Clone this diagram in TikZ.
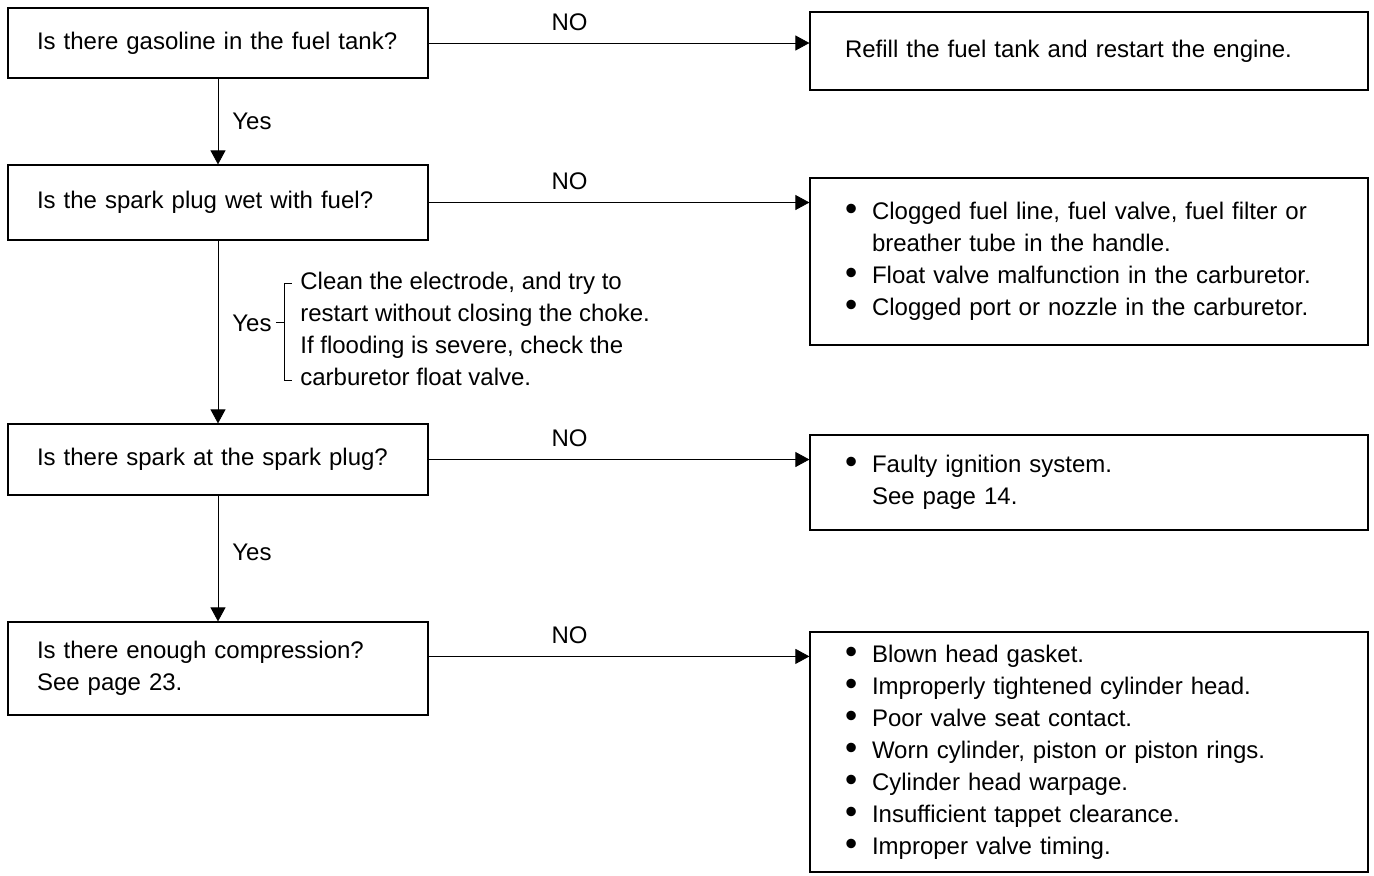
\documentclass[tikz,border=0pt]{standalone}
\usepackage{fontspec}
\setmainfont{Liberation Sans}
\usetikzlibrary{arrows.meta,positioning}
\newcommand{\itm}{\makebox[13.5pt][l]{\raisebox{-0.05em}{\scalebox{1.45}{\textbullet}}}}

\begin{document}
\begin{tikzpicture}[x=0.5pt, y=-0.5pt, >={Triangle[length=7pt,width=7.5pt]},
    every node/.style={font=\fontsize{12}{16}\selectfont},
    qbox/.style={draw, line width=0.6pt, inner xsep=14.5pt, text width=181pt, align=left},
    fixbox/.style={draw, line width=0.6pt, inner xsep=17.5pt, text width=244pt, align=left},
    lbl/.style={inner sep=2pt}]
  \useasboundingbox (0,0) rectangle (1374,875);

  % questions
  \node[qbox, minimum height=35pt] (fuel) at (218,43) {Is there gasoline in the fuel tank?};
  \node[qbox, minimum height=37.5pt] (wet) at (218,202.5) {Is the spark plug wet with fuel?};
  \node[qbox, minimum height=35.5pt] (spark) at (218,459.5) {Is there spark at the spark plug?};
  \node[qbox, minimum height=46.5pt] (comp) at (218,668.5) {Is there enough compression?\\See page 23.};

  % remedies
  \node[fixbox, minimum height=39pt] (refill) at (1089,51) {Refill the fuel tank and restart the engine.};
  \node[fixbox, minimum height=83.5pt] (clog) at (1089,261.5)
     {\itm Clogged fuel line, fuel valve, fuel filter or\\
      \hspace*{13.5pt}breather tube in the handle.\\
      \itm Float valve malfunction in the carburetor.\\
      \itm Clogged port or nozzle in the carburetor.};
  \node[fixbox, minimum height=47.5pt] (ign) at (1089,482.5)
     {\itm Faulty ignition system.\\
      \hspace*{13.5pt}See page 14.};
  \node[fixbox, minimum height=120pt] (head) at (1089,752)
     {\itm Blown head gasket.\\
      \itm Improperly tightened cylinder head.\\
      \itm Poor valve seat contact.\\
      \itm Worn cylinder, piston or piston rings.\\
      \itm Cylinder head warpage.\\
      \itm Insufficient tappet clearance.\\
      \itm Improper valve timing.};

  % NO branches
  \draw[->] (fuel.east) -- (fuel.east -| refill.west) node[lbl, pos=0.37, above=4pt] {NO};
  \draw[->] (wet.east) -- (wet.east -| clog.west) node[lbl, pos=0.37, above=4pt] {NO};
  \draw[->] (spark.east) -- (spark.east -| ign.west) node[lbl, pos=0.37, above=4pt] {NO};
  \coordinate (cno) at ([yshift=-17.5pt]comp.north east);
  \draw[->] (cno) -- (cno -| head.west) node[lbl, pos=0.37, above=4pt] {NO};

  % Yes branches
  \draw[->] (fuel.south) -- (wet.north) node[lbl, midway, right=5pt] {Yes};
  \draw[->] (wet.south) -- (spark.north) node[lbl, pos=0.45, right=5pt] (yes2) {Yes};
  \draw[->] (spark.south) -- (comp.north) node[lbl, pos=0.45, right=5pt] {Yes};

  % note on the flooded plug
  \node[lbl, align=left, right=10pt of yes2, yshift=-3pt] (clean)
     {Clean the electrode, and try to\\
      restart without closing the choke.\\
      If flooding is severe, check the\\
      carburetor float valve.};
  \draw (yes2.east) -- ++(4pt,0) coordinate (brk);
  \path (brk |- clean.north) ++(0,16) coordinate (btop);
  \path (brk |- clean.south) ++(0,-10) coordinate (bbot);
  \draw ([xshift=4pt]btop) -- (btop) -- (bbot) -- ([xshift=4pt]bbot);
\end{tikzpicture}
\end{document}
